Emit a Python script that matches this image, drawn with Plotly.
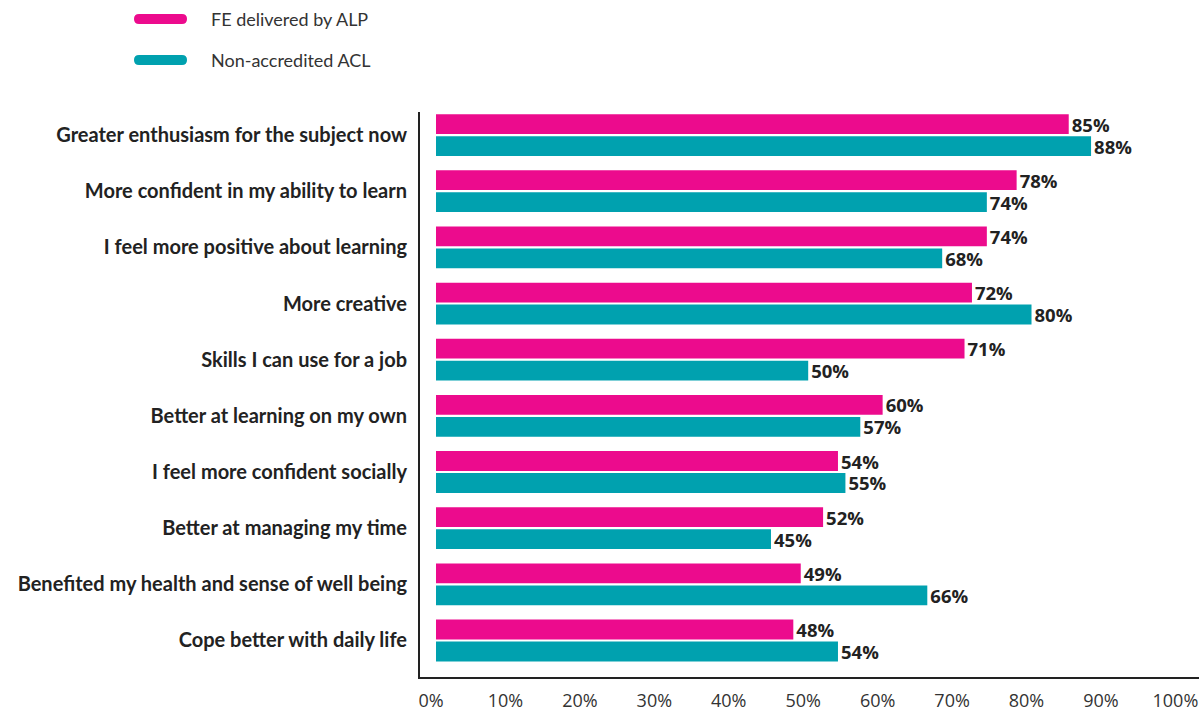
import plotly.graph_objects as go

categories = [
    "Greater enthusiasm for the subject now",
    "More confident in my ability to learn",
    "I feel more positive about learning",
    "More creative",
    "Skills I can use for a job",
    "Better at learning on my own",
    "I feel more confident socially",
    "Better at managing my time",
    "Benefited my health and sense of well being",
    "Cope better with daily life",
]
fe_alp = [85, 78, 74, 72, 71, 60, 54, 52, 49, 48]
acl_non_accredited = [88, 74, 68, 80, 50, 57, 55, 45, 66, 54]
series_names = ["FE delivered by ALP", "Non-accredited ACL"]
tick_values = list(range(0, 101, 10))
tick_text = [f"{v}%" for v in tick_values]

PINK = "#EC0B8D"
TEAL = "#00A1AF"
TEXT = "#222222"
FONT = "Lato"
NUM_FONT = "Open Sans"

fig = go.Figure()

for name, vals, color in [
    (series_names[0], fe_alp, PINK),
    (series_names[1], acl_non_accredited, TEAL),
]:
    fig.add_trace(go.Bar(
        y=categories, x=vals, orientation="h", name=name,
        marker=dict(color=color, line=dict(width=0)),
        text=[f"{v}%" for v in vals], textposition="outside",
        constraintext="none",
        textfont=dict(family=NUM_FONT, size=18.5, color=TEXT, weight="bold"),
        cliponaxis=False, showlegend=False,
    ))


def pill(x0, x1, yc, r=5):
    """Rounded bar path in pixel units relative to the shape anchor."""
    return (
        f"M{x0 + r},{yc + r} L{x1 - r},{yc + r} "
        f"Q{x1},{yc + r} {x1},{yc} Q{x1},{yc - r} {x1 - r},{yc - r} "
        f"L{x0 + r},{yc - r} Q{x0},{yc - r} {x0},{yc} Q{x0},{yc + r} {x0 + r},{yc + r} Z"
    )


# key: rounded swatches + labels, placed above the plot area (pixels)
plot_left, plot_top, plot_w, plot_h = 420, 112, 779, 565
key_rows = [(series_names[0], PINK, 19), (series_names[1], TEAL, 60)]
for name, color, ypix in key_rows:
    up = plot_top - ypix
    fig.add_shape(
        type="path", xref="paper", yref="paper",
        xsizemode="pixel", ysizemode="pixel", xanchor=0, yanchor=1,
        path=pill(134 - plot_left, 187 - plot_left, up),
        fillcolor=color, line=dict(width=0),
    )
    fig.add_annotation(
        xref="paper", yref="paper",
        x=(209 - plot_left) / plot_w, y=1 + up / plot_h,
        xanchor="left", yanchor="middle", showarrow=False,
        text=name, font=dict(family=FONT, size=18, color="#333333"),
    )

fig.update_layout(
    width=1199, height=713,
    margin=dict(l=plot_left, r=0, t=plot_top, b=36, autoexpand=False),
    paper_bgcolor="white", plot_bgcolor="white",
    barmode="group", bargap=0.217, bargroupgap=0.1,
    font=dict(family=FONT, color=TEXT),
    showlegend=False,
    xaxis=dict(
        range=[-2.15, 102.5], tickvals=tick_values, ticktext=tick_text,
        showgrid=False, zeroline=False, showline=True, automargin=False,
        linecolor="#222222", linewidth=2, ticks="",
        ticklabelstandoff=6, ticklabelshift=-5, ticklabeloverflow="allow",
        tickfont=dict(family=NUM_FONT, size=18, color="#333333"),
        fixedrange=True,
    ),
    yaxis=dict(
        categoryorder="array", categoryarray=categories,
        range=[9.65, -0.41], showgrid=False, zeroline=False, automargin=False,
        showline=True, linecolor="#222222", linewidth=2,
        ticks="", ticklabelstandoff=7,
        tickfont=dict(family=FONT, size=20, color=TEXT, weight="bold"),
        fixedrange=True,
    ),
)

fig.write_html("out.html")
